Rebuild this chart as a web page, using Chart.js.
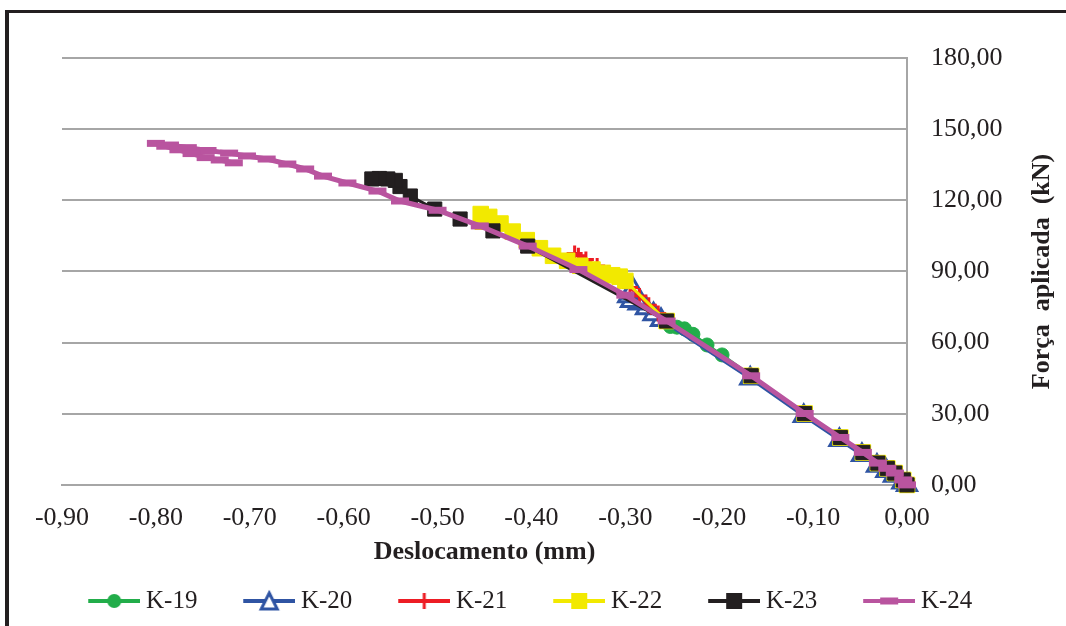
<!DOCTYPE html>
<html lang="pt">
<head>
<meta charset="utf-8">
<title>Força aplicada x Deslocamento</title>
<script src="https://cdn.jsdelivr.net/npm/chart.js@4.4.1/dist/chart.umd.min.js"></script>
<style>
  body { margin: 0; background: #fff; overflow: hidden; }
  #frame { position: absolute; left: 5px; top: 10px; width: 1200px; height: 700px;
           border-left: 4px solid #231f20; border-top: 3px solid #231f20; }
  #chart { position: absolute; left: 0; top: 0; }
</style>
</head>
<body>
<div id="frame"></div>
<canvas id="chart" width="1066" height="626"></canvas>
<script>
// Displacement (mm) and applied load (kN) for each specimen
const k19X = [0, -0.004, -0.013, -0.021, -0.031, -0.047, -0.071, -0.109, -0.166, -0.197, -0.213, -0.228, -0.237, -0.245, -0.252];
const k19Y = [0, 2.1, 5.0, 7.0, 9.2, 13.7, 20.0, 30.1, 46.0, 54.8, 59.0, 63.5, 65.8, 66.5, 66.8];

const k20X = [0, -0.005, -0.014, -0.022, -0.032, -0.048, -0.072, -0.110, -0.167, -0.262, -0.270, -0.278, -0.286, -0.294, -0.297, -0.294, -0.292];
const k20Y = [0, 1.0, 3.9, 5.9, 8.1, 12.6, 18.9, 29.0, 44.9, 69.5, 72.0, 74.5, 76.5, 77.5, 79.5, 81.0, 82.6];

const k21X = [0, -0.004, -0.013, -0.021, -0.031, -0.047, -0.071, -0.109, -0.166, -0.256, -0.265, -0.275, -0.285, -0.295, -0.305, -0.318, -0.330, -0.342, -0.350, -0.354];
const k21Y = [0, 2.1, 5.0, 7.0, 9.2, 13.7, 20.0, 30.1, 46.0, 69.1, 72.3, 75.8, 79.6, 83.2, 86.3, 89.3, 92.3, 95.0, 96.6, 97.6];

const k22X = [0, -0.004, -0.013, -0.021, -0.031, -0.047, -0.071, -0.109, -0.166, -0.256, -0.300, -0.306, -0.314, -0.324, -0.335, -0.348, -0.362, -0.377, -0.391, -0.405, -0.420, -0.433, -0.445, -0.454, -0.452];
const k22Y = [0, 2.1, 5.0, 7.0, 9.2, 13.7, 20.0, 30.1, 46.0, 69.1, 86.0, 87.8, 88.4, 89.4, 90.8, 92.4, 94.5, 96.6, 99.8, 103.2, 106.8, 110.2, 113.0, 114.2, 111.0];

const k23X = [0, -0.004, -0.013, -0.021, -0.031, -0.047, -0.071, -0.109, -0.166, -0.256, -0.404, -0.441, -0.476, -0.503, -0.529, -0.540, -0.545, -0.553, -0.562, -0.570];
const k23Y = [0, 2.1, 5.0, 7.0, 9.2, 13.7, 20.0, 30.1, 46.0, 69.1, 100.7, 107.1, 112.1, 116.3, 121.8, 125.8, 128.4, 129.0, 129.2, 129.0];

const k24X = [0, -0.004, -0.013, -0.021, -0.031, -0.047, -0.071, -0.109, -0.166, -0.256, -0.300, -0.350, -0.404, -0.455, -0.500, -0.540, -0.564, -0.596, -0.622, -0.641, -0.660, -0.682, -0.703, -0.722, -0.745, -0.766, -0.785, -0.800, -0.790, -0.776, -0.762, -0.747, -0.732, -0.717];
const k24Y = [0, 2.1, 5.0, 7.0, 9.2, 13.7, 20.0, 30.1, 46.0, 69.1, 80.0, 90.8, 100.7, 109.2, 115.8, 119.7, 123.9, 127.3, 130.2, 133.2, 135.3, 137.4, 138.7, 139.9, 141.0, 142.2, 143.3, 144.0, 142.8, 141.3, 139.7, 138.0, 137.0, 135.8];

const seriesNames = ['K-19', 'K-20', 'K-21', 'K-22', 'K-23', 'K-24'];

const TEXT = '#231f20';
const GRID = '#a6a6a6';
const SERIF = '"Liberation Serif", "Times New Roman", serif';

const GREEN = '#22ad4a';
const BLUE = '#2f54a3';
const RED = '#ed1c24';
const YELLOW = '#f2e900';
const BLACK = '#231f20';
const MAGENTA = '#b9549f';

function toPoints(xs, ys) {
  return xs.map((x, i) => ({ x: x, y: ys[i] }));
}

function fmt(v) {
  if (Math.abs(v) < 1e-9) v = 0;
  return v.toFixed(2).replace('.', ',');
}

// Legend icon: short line with the series marker in the middle
function legendIcon(color, marker) {
  const c = document.createElement('canvas');
  c.width = 76;
  c.height = 24;
  const g = c.getContext('2d');
  const cx = 50, cy = 12;
  g.strokeStyle = color;
  g.fillStyle = color;
  g.lineWidth = 4;
  g.beginPath();
  g.moveTo(24, cy);
  g.lineTo(76, cy);
  g.stroke();
  if (marker === 'circle') {
    g.beginPath();
    g.arc(cx, cy, 7, 0, Math.PI * 2);
    g.fill();
  } else if (marker === 'triangle') {
    g.beginPath();
    g.moveTo(cx, cy - 8);
    g.lineTo(cx + 8, cy + 8);
    g.lineTo(cx - 8, cy + 8);
    g.closePath();
    g.fillStyle = '#fff';
    g.fill();
    g.lineWidth = 3;
    g.stroke();
  } else if (marker === 'cross') {
    g.lineWidth = 3;
    g.beginPath();
    g.moveTo(cx, cy - 8);
    g.lineTo(cx, cy + 8);
    g.stroke();
  } else if (marker === 'rect') {
    g.fillRect(cx - 8, cy - 8, 16, 16);
  } else if (marker === 'line') {
    g.fillRect(cx - 9, cy - 3.5, 18, 7);
  }
  return c;
}

const legendIcons = [
  legendIcon(GREEN, 'circle'),
  legendIcon(BLUE, 'triangle'),
  legendIcon(RED, 'cross'),
  legendIcon(YELLOW, 'rect'),
  legendIcon(BLACK, 'rect'),
  legendIcon(MAGENTA, 'line')
];

// Axis titles (the load title reads bottom to top, like the original)
const axisTitles = {
  id: 'axisTitles',
  afterDraw(chart) {
    const { ctx, chartArea } = chart;
    ctx.save();
    ctx.fillStyle = TEXT;
    ctx.font = 'bold 26px ' + SERIF;
    ctx.textAlign = 'center';
    ctx.textBaseline = 'middle';
    ctx.fillText('Deslocamento (mm)', (chartArea.left + chartArea.right) / 2, 552);
    ctx.translate(1042, (chartArea.top + chartArea.bottom) / 2);
    ctx.rotate(-Math.PI / 2);
    ctx.fillText('Força  aplicada  (kN)', 0, 0);
    ctx.restore();
  }
};

function series(i, xs, ys, color, extra) {
  return Object.assign({
    label: seriesNames[i],
    data: toPoints(xs, ys),
    showLine: true,
    borderColor: color,
    backgroundColor: color,
    borderWidth: 3,
    pointBackgroundColor: color,
    pointBorderColor: color,
    pointBorderWidth: 1,
    clip: false,
    order: 6 - i,
    yAxisID: 'y'
  }, extra);
}

const datasets = [
  series(0, k19X, k19Y, GREEN, { pointStyle: 'circle', pointRadius: 7 }),
  series(1, k20X, k20Y, BLUE, { pointStyle: 'triangle', pointRadius: 11, pointBackgroundColor: '#fff', pointBorderWidth: 3 }),
  series(2, k21X, k21Y, RED, { pointStyle: 'cross', pointRadius: 8, pointBorderWidth: 3 }),
  series(3, k22X, k22Y, YELLOW, { pointStyle: 'rect', pointRadius: 11 }),
  series(4, k23X, k23Y, BLACK, { pointStyle: 'rect', pointRadius: 10 }),
  series(5, k24X, k24Y, MAGENTA, { pointStyle: 'line', pointRadius: 9, pointBorderWidth: 7, borderWidth: 5 })
];

const tickFont = { family: SERIF, size: 26 };

new Chart(document.getElementById('chart'), {
  type: 'scatter',
  data: { datasets: datasets },
  options: {
    responsive: false,
    animation: false,
    devicePixelRatio: 1,
    layout: { padding: { left: 42.4, right: 0, top: 58, bottom: 2.5 } },
    scales: {
      y: {
        type: 'linear',
        position: 'right',
        min: 0,
        max: 180,
        ticks: { stepSize: 30, padding: 24, color: TEXT, font: tickFont, callback: fmt },
        grid: { color: GRID, lineWidth: 2, drawTicks: false },
        border: { color: GRID, width: 2 },
        afterFit: s => { s.width = 159; }
      },
      // empty spacer so the plot starts at the same place as the original
      pad: {
        type: 'linear',
        axis: 'y',
        position: 'left',
        ticks: { display: false },
        grid: { display: false },
        border: { display: false },
        afterFit: s => { s.width = 19.6; }
      },
      x: {
        type: 'linear',
        position: 'bottom',
        min: -0.9,
        max: 0,
        ticks: { stepSize: 0.1, padding: 18, color: TEXT, font: tickFont, maxRotation: 0, autoSkip: false, callback: fmt },
        grid: { display: false, drawTicks: false },
        border: { color: GRID, width: 2 },
        afterFit: s => { s.height = 75; }
      }
    },
    plugins: {
      tooltip: { enabled: false },
      legend: {
        position: 'bottom',
        align: 'start',
        labels: {
          usePointStyle: true,
          pointStyleWidth: 62.5,
          padding: 28.6,
          color: TEXT,
          font: { family: SERIF, size: 25 },
          generateLabels(chart) {
            const items = Chart.defaults.plugins.legend.labels.generateLabels(chart);
            items.sort((a, b) => a.datasetIndex - b.datasetIndex);
            items.forEach(item => { item.pointStyle = legendIcons[item.datasetIndex]; });
            return items;
          }
        }
      }
    }
  },
  plugins: [axisTitles]
});
</script>
</body>
</html>
